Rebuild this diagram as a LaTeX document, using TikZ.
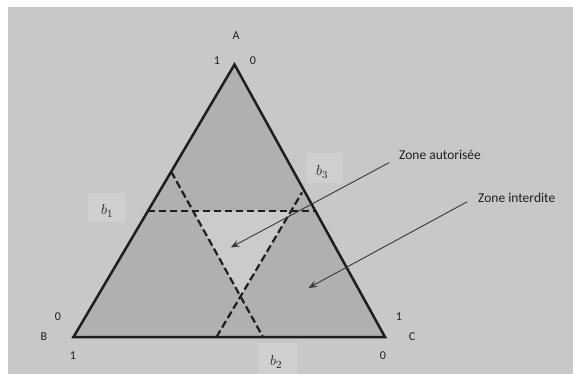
\documentclass[tikz,border=0pt]{standalone}
\usepackage{fontspec}
\setmainfont{Carlito}
\usetikzlibrary{arrows.meta,calc}
\definecolor{pagebg}{HTML}{C8C8C8}
\definecolor{trifill}{HTML}{B0B0B0}
\definecolor{innerfill}{HTML}{CBCBCB}
\definecolor{patchbg}{HTML}{D0D0D0}
\definecolor{ink}{HTML}{1E1E1E}
\definecolor{arrowink}{HTML}{383838}
\tikzset{
  edgeline/.style={draw=ink, line width=2.5pt, line join=miter},
  dashline/.style={draw=ink, line width=2.2pt, dash pattern=on 7.5pt off 3.5pt},
  pointer/.style={draw=arrowink, line width=0.9pt, -{Stealth[length=9pt,width=7pt,inset=3.5pt]}},
  vlabel/.style={font=\fontsize{12}{14}\selectfont, text=ink, inner sep=0pt},
  zlabel/.style={font=\fontsize{13.5}{15}\selectfont, text=ink, inner sep=0pt, anchor=west},
  blabel/.style={font=\fontsize{15}{17}\selectfont, text=ink, inner sep=0pt},
  patch/.style={fill=patchbg, draw=none}
}
\begin{document}
\begin{tikzpicture}[x=1pt,y=-1pt]
\useasboundingbox (0,0) rectangle (573,374);
\fill[white] (0,0) rectangle (573,374);
\fill[pagebg] (8,7) rectangle (573,374);

% vertices
\coordinate (A) at (234.5,64.5);
\coordinate (B) at (73.5,337);
\coordinate (C) at (385,337);

% dashed line end points
\coordinate (h1) at (147.9,211);
\coordinate (h2) at (315.4,211);
\coordinate (p1) at (171.2,171.7);
\coordinate (p2) at (263,337);
\coordinate (q1) at (216.5,337);
\coordinate (q2) at (302,192.5);

\coordinate (i1) at (intersection of h1--h2 and p1--p2);
\coordinate (i2) at (intersection of h1--h2 and q1--q2);
\coordinate (i3) at (intersection of p1--p2 and q1--q2);

% label patches
\fill[patch] (88,193) rectangle (125,222);
\fill[patch] (307,153) rectangle (343,183);
\fill[patch] (258,343) rectangle (297,374);

% fills
\fill[trifill] (A) -- (B) -- (C) -- cycle;
\fill[innerfill] (i1) -- (i2) -- (i3) -- cycle;

% dashed lines
\draw[dashline] (h1) -- (h2);
\draw[dashline] (p1) -- (p2);
\draw[dashline] (q1) -- (q2);

% triangle
\draw[edgeline] (A) -- (B) -- (C) -- cycle;

% vertex labels
\node[vlabel] (lA) at (236,36) {A};
\node[vlabel] (lA1) at (217,61) {1};
\node[vlabel] (lA0) at (253,61) {0};
\node[vlabel] (lB0) at (58,317) {0};
\node[vlabel] (lB) at (44,337) {B};
\node[vlabel] (lB1) at (73,356) {1};
\node[vlabel] (lC1) at (399,317) {1};
\node[vlabel] (lC) at (412,337) {C};
\node[vlabel] (lC0) at (383,356) {0};

% b labels
\node[blabel] (b1) at (107,211) {$b_1$};
\node[blabel] (b3) at (322,172) {$b_3$};
\node[blabel] (b2) at (276,362) {$b_2$};

% zone labels and arrows
\node[zlabel] (za) at (399,155) {Zone autorisée};
\node[zlabel] (zi) at (478,197.5) {Zone interdite};
\coordinate (sa) at (389,162.7);
\coordinate (ta) at (230.7,247.5);
\coordinate (si) at (467.3,201.7);
\coordinate (ti) at (308.4,288);
\draw[pointer] (sa) -- (ta);
\draw[pointer] (si) -- (ti);
\end{tikzpicture}
\end{document}
